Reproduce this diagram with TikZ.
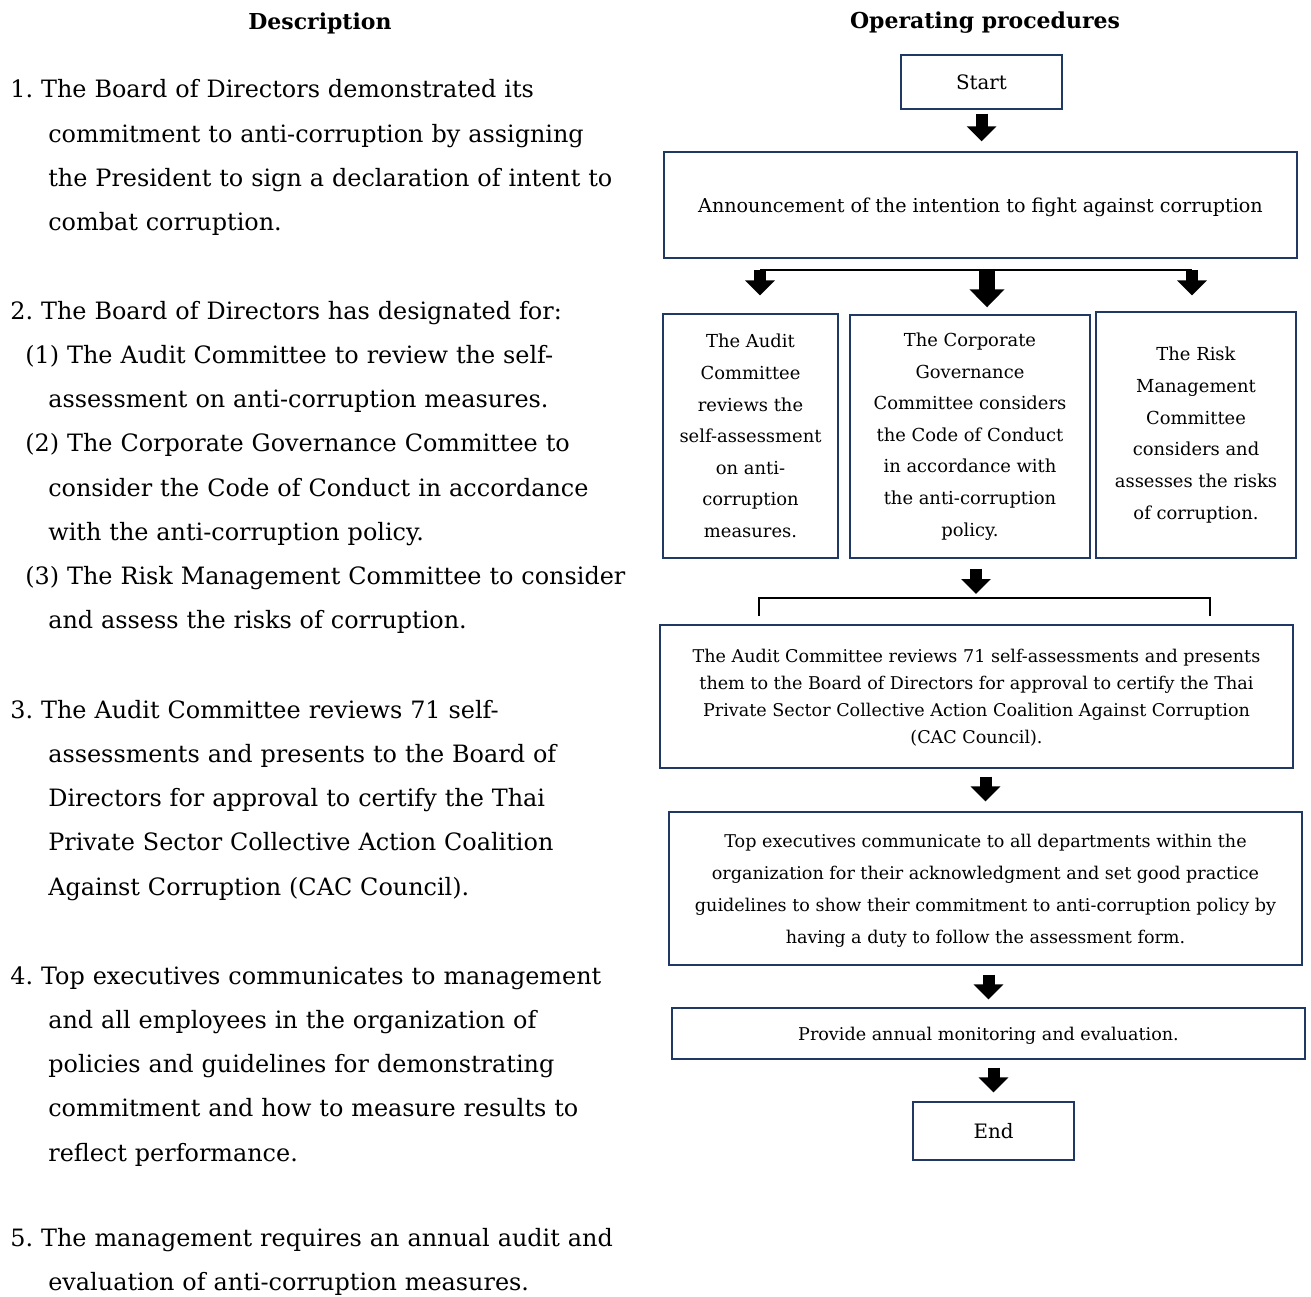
\documentclass[tikz,border=0pt]{standalone}
\usepackage{fontspec}
\setmainfont{DejaVu Serif}
\usepackage{tikz}
\usetikzlibrary{%
  positioning
 ,arrows.meta
 ,calc
}
\definecolor{boxblue}{RGB}{31,56,100}
\tikzstyle{head}=[font=\fontsize{12.5}{15}\selectfont\bfseries,inner sep=0pt]
\tikzstyle{desc}=[anchor=base west,inner sep=0pt,text width=14cm,align=left,font=\fontsize{13.6}{25.2}\selectfont\frenchspacing]
\tikzstyle{proc}=[draw=boxblue,line width=0.8pt,inner sep=0pt,align=center,font=\fontsize{10.2}{18}\selectfont]
\tikzstyle{wide}=[proc,minimum width=12.66cm,text depth=0pt]
\tikzstyle{term}=[proc,minimum width=3.22cm,font=\fontsize{11.3}{14}\selectfont]
\tikzstyle{blk}=[line width=0.24cm,-{Triangle[width=0.58cm,length=0.3cm]}]
\tikzstyle{bigblk}=[line width=0.32cm,-{Triangle[width=0.68cm,length=0.36cm]}]
\tikzstyle{bar}=[line width=0.045cm]

\begin{document}
\begin{tikzpicture}[x=0.02cm,y=-0.02cm]
  \useasboundingbox (0,0) rectangle (1311,1297);
  % headings
  \node[head] (hdesc) at (320,23) {Description};
  \node[head] (hproc) at (985,23) {Operating procedures};
  % description column
  \node[desc] (d1) at (10,98) {\hangindent=0.76cm\hangafter=1
    1. The Board of Directors demonstrated its\newline commitment to anti-corruption by assigning\newline the President to sign a declaration of intent to\newline combat corruption.\par};
  \node[desc] (d2) at (10,319) {2. The Board of Directors has designated for:\par
    \hangindent=0.76cm\hangafter=1\hspace*{0.3cm}(1) The Audit Committee to review the self-\newline assessment on anti-corruption measures.\par
    \hangindent=0.76cm\hangafter=1\hspace*{0.3cm}(2) The Corporate Governance Committee to\newline consider the Code of Conduct in accordance\newline with the anti-corruption policy.\par
    \hangindent=0.76cm\hangafter=1\hspace*{0.3cm}(3) The Risk Management Committee to consider\newline and assess the risks of corruption.\par};
  \node[desc] (d3) at (10,718) {\hangindent=0.76cm\hangafter=1
    3. The Audit Committee reviews 71 self-\newline assessments and presents to the Board of\newline Directors for approval to certify the Thai\newline Private Sector Collective Action Coalition\newline Against Corruption (CAC Council).\par};
  \node[desc] (d4) at (10,984) {\hangindent=0.76cm\hangafter=1
    4. Top executives communicates to management\newline and all employees in the organization of\newline policies and guidelines for demonstrating\newline commitment and how to measure results to\newline reflect performance.\par};
  \node[desc] (d5) at (10,1246) {\hangindent=0.76cm\hangafter=1
    5. The management requires an annual audit and\newline evaluation of anti-corruption measures.\par};
  % flow chart
  \node[term,minimum height=1.08cm] (start) at (981.5,82) {Start};
  \node[wide,minimum height=2.12cm,font=\fontsize{10.9}{14}\selectfont] (ann) at (980.5,205)
    {Announcement of the intention to fight against corruption};
  \node[proc,minimum width=3.5cm,minimum height=4.88cm] (audit) at (750.5,436)
    {The Audit\\Committee\\reviews the\\self-assessment\\on anti-\\corruption\\measures.};
  \node[proc,minimum width=4.8cm,minimum height=4.86cm] (cgc) at (970,436.5)
    {The Corporate\\Governance\\Committee considers\\the Code of Conduct\\in accordance with\\the anti-corruption\\policy.};
  \node[proc,minimum width=4cm,minimum height=4.92cm] (risk) at (1196,435)
    {The Risk\\Management\\Committee\\considers and\\assesses the risks\\of corruption.};
  \node[wide,minimum height=2.86cm,font=\fontsize{10}{15.4}\selectfont] (cac) at (976.5,696.5)
    {The Audit Committee reviews 71 self-assessments and presents\\them to the Board of Directors for approval to certify the Thai\\Private Sector Collective Action Coalition Against Corruption\\(CAC Council).};
  \node[wide,minimum height=3.06cm,font=\fontsize{10}{18.2}\selectfont] (exec) at (985.5,888.5)
    {Top executives communicate to all departments within the\\organization for their acknowledgment and set good practice\\guidelines to show their commitment to anti-corruption policy by\\having a duty to follow the assessment form.};
  \node[wide,minimum height=1.02cm,font=\fontsize{10}{12}\selectfont] (monitor) at (988.5,1033.5)
    {Provide annual monitoring and evaluation.};
  \node[term,minimum height=1.16cm] (end) at (993.5,1131) {End};
  % branch and bracket
  \coordinate (bl) at (760,270);
  \coordinate (bm) at (987,270);
  \coordinate (br) at (1192,270);
  \coordinate (kl) at (759,616);
  \coordinate (km) at (976,598);
  \coordinate (kr) at (1210,616);
  \draw[bar] (bl) -- (br);
  \draw[bar] (kl) -- (kl |- km) -- (kr |- km) -- (kr);
  % arrows
  \draw[blk,shorten <=0.08cm,shorten >=0.2cm] (start.south) -- (start.south |- ann.north);
  \draw[blk,shorten >=0.36cm] (bl) -- (bl |- audit.north);
  \draw[bigblk,shorten >=0.14cm] (bm) -- (bm |- cgc.north);
  \draw[blk,shorten >=0.32cm] (br) -- (br |- risk.north);
  \draw[blk,shorten <=0.2cm,shorten >=0.08cm] (km |- cgc.south) -- (km);
  \draw[blk,shorten <=0.16cm,shorten >=0.2cm] (cac.south -| exec.north) -- (exec.north);
  \draw[blk,shorten <=0.18cm,shorten >=0.16cm] (exec.south -| monitor.north) -- (monitor.north);
  \draw[blk,shorten <=0.16cm,shorten >=0.18cm] (monitor.south -| end.north) -- (end.north);
\end{tikzpicture}
\end{document}
